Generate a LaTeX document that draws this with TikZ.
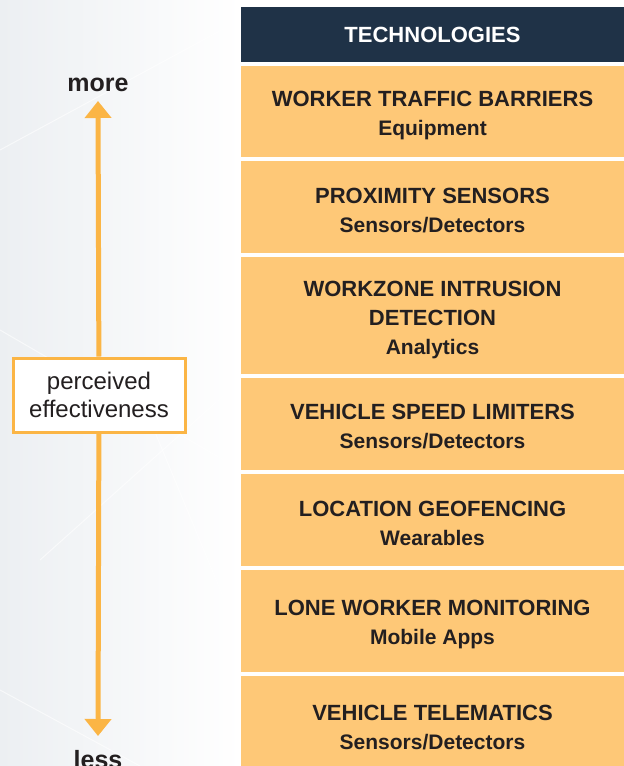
\documentclass[tikz,border=0pt]{standalone}
\usepackage{fontspec}
\setmainfont{Liberation Sans}
\usetikzlibrary{arrows.meta}
\definecolor{navy}{HTML}{1F3247}
\definecolor{techfill}{HTML}{FEC877}
\definecolor{scaleorange}{HTML}{FBB545}
\definecolor{ink}{HTML}{231F20}
\definecolor{bgleft}{HTML}{ECEFF2}
\newcommand\subfont{\fontsize{21}{29}\selectfont\bfseries}

\begin{document}
\begin{tikzpicture}[x=1pt,y=-1pt,
    tech/.style={inner sep=0pt,align=center,text=ink,
      font=\fontsize{22}{29}\selectfont\bfseries},
    scalelabel/.style={text=ink,font=\fontsize{25}{30}\selectfont\bfseries},
    scaleline/.style={draw=scaleorange,line width=5pt,-{Triangle[width=26pt,length=17pt]}}]
  \useasboundingbox (0,0) rectangle (624,766);
  % background
  \shade[left color=bgleft,right color=white] (0,0) rectangle (241,766);
  \fill[white] (241,0) rectangle (624,766);
  \begin{scope}[white,line width=1pt,opacity=.6]
    \draw (0,150) -- (240,20);
    \draw (0,330) -- (241,470);
    \draw (40,560) -- (241,380);
    \draw (0,690) -- (140,766);
    \draw (150,420) -- (241,640);
  \end{scope}
  % technologies column
  \fill[navy] (241,7) rectangle (624,62);
  \foreach \ytop/\ybot in {66/157,161/253,257/374,378/470,474/566,570/672,676/766}
    \fill[techfill] (241,\ytop) rectangle (624,\ybot);
  \node[text=white,font=\fontsize{22}{26}\selectfont\bfseries] (head) at (432.5,34.5) {TECHNOLOGIES};
  \node[tech] (r1) at (432.5,115.5) {WORKER TRAFFIC BARRIERS\\{\subfont Equipment}};
  \node[tech] (r2) at (432.5,211) {PROXIMITY SENSORS\\{\subfont Sensors/Detectors}};
  \node[tech] (r3) at (432.5,319.5) {WORKZONE INTRUSION\\DETECTION\\{\subfont Analytics}};
  \node[tech] (r4) at (432.5,426.5) {VEHICLE SPEED LIMITERS\\{\subfont Sensors/Detectors}};
  \node[tech] (r5) at (432.5,523) {LOCATION GEOFENCING\\{\subfont Wearables}};
  \node[tech] (r6) at (432.5,624.5) {LONE WORKER MONITORING\\{\subfont Mobile Apps}};
  \node[tech] (r7) at (432.5,727.5) {VEHICLE TELEMATICS\\{\subfont Sensors/Detectors}};
  % effectiveness scale
  \node[scalelabel] (more) at (98,85) {more};
  \node[scalelabel] (less) at (98,760) {less};
  \coordinate (uptip) at (98,101);
  \coordinate (downtip) at (98,736);
  \node[draw=scaleorange,line width=3pt,fill=white,minimum width=172pt,minimum height=74pt,
    align=center,text=ink,font=\fontsize{24}{28}\selectfont] (perc) at (99,395)
    {perceived\\effectiveness};
  \draw[scaleline] (perc) -- (uptip);
  \draw[scaleline] (perc) -- (downtip);
\end{tikzpicture}
\end{document}
